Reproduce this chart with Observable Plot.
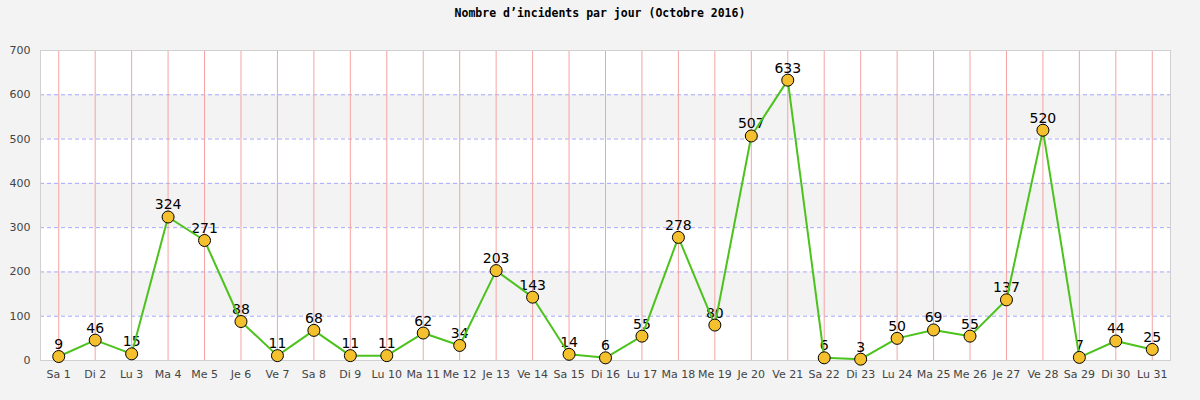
<!DOCTYPE html>
<html>
<head>
<meta charset="utf-8">
<script src="https://cdn.jsdelivr.net/npm/d3@7"></script>
<script src="https://cdn.jsdelivr.net/npm/@observablehq/plot@0.6"></script>
<style>
  html, body { margin: 0; padding: 0; background: #f3f3f3; }
  #title { height: 26px; line-height: 26px; text-align: center; font-family: "DejaVu Sans Mono", monospace; font-weight: bold; font-size: 11.5px; color: #000; }
</style>
</head>
<body>
<div id="title">Nombre d’incidents par jour (Octobre 2016)</div>
<div id="chart"></div>
<script>
const days = ["Sa 1","Di 2","Lu 3","Ma 4","Me 5","Je 6","Ve 7","Sa 8","Di 9","Lu 10","Ma 11","Me 12","Je 13","Ve 14","Sa 15","Di 16","Lu 17","Ma 18","Me 19","Je 20","Ve 21","Sa 22","Di 23","Lu 24","Ma 25","Me 26","Je 27","Ve 28","Sa 29","Di 30","Lu 31"];
const incidents = [9,46,15,324,271,88,11,68,11,11,62,34,203,143,14,6,55,278,80,507,633,6,3,50,69,55,137,520,7,44,25];
const yTicks = [0,100,200,300,400,500,600,700];
const gridLines = [100,200,300,400,500,600];
const grayBands = [100,300,500];

const data = days.map((d, i) => ({day: d, value: incidents[i]}));

const chart = Plot.plot({
  width: 1200,
  height: 374,
  marginTop: 24,
  marginBottom: 40,
  marginLeft: 40,
  marginRight: 30,
  style: {background: "#f3f3f3", fontFamily: "DejaVu Sans, sans-serif", fontSize: "11px", color: "#444"},
  x: {type: "point", domain: days, padding: 0.5, round: false, label: null, tickSize: 0, tickPadding: 10},
  y: {domain: [0, 700], ticks: yTicks, label: null, tickSize: 0, tickPadding: 10},
  marks: [
    Plot.frame({fill: "white"}),
    Plot.rect(grayBands, {y1: d => d, y2: d => d + 100, fill: "#f3f3f3"}),
    Plot.ruleY(gridLines, {stroke: "#a8a8ff", strokeOpacity: 1, strokeDasharray: "4,3"}),
    Plot.ruleX(days, {x: d => d, stroke: "#f4a4a4", strokeOpacity: 1}),
    Plot.frame({stroke: "#d0d0d0"}),
    Plot.axisX({tickSize: 0, tickPadding: 10, label: null, fill: "#444"}),
    Plot.axisY({ticks: yTicks, tickSize: 0, tickPadding: 10, label: null, fill: "#444"}),
    Plot.text(data, {x: "day", y: "value", text: d => String(d.value), dy: -12, fontSize: 14, fill: "black", fontFamily: "DejaVu Sans, sans-serif"}),
    Plot.line(data, {x: "day", y: "value", stroke: "#4cc21c", strokeWidth: 2}),
    Plot.dot(data, {x: "day", y: "value", r: 6, fill: "#f5c02e", stroke: "black", strokeWidth: 1})
  ]
});
document.getElementById("chart").appendChild(chart);
</script>
</body>
</html>
